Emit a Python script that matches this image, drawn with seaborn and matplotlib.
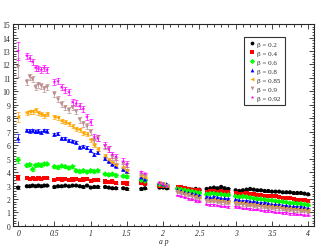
import matplotlib
matplotlib.use('Agg')
import matplotlib.pyplot as plt
import numpy as np
import pandas as pd
import seaborn as sns
from matplotlib.ticker import MultipleLocator

# momentum values a*p
ap = [0, 0.12, 0.16, 0.2, 0.24, 0.28, 0.32, 0.36, 0.4,
      0.5, 0.55, 0.6, 0.65, 0.7, 0.75, 0.8, 0.85, 0.9, 0.95, 1.0, 1.05, 1.1,
      1.2, 1.25, 1.3, 1.35, 1.45, 1.5,
      1.7, 1.75, 1.95, 2.0, 2.05,
      2.2, 2.25, 2.3, 2.35, 2.4, 2.45, 2.5,
      2.6, 2.65, 2.7, 2.75, 2.8, 2.85, 2.9,
      3.0, 3.05, 3.1, 3.15, 3.2, 3.25, 3.3, 3.35, 3.4, 3.45, 3.5, 3.55,
      3.6, 3.65, 3.7, 3.75, 3.8, 3.85, 3.9, 3.95, 4.0]

betas = ['0.2', '0.4', '0.6', '0.8', '0.85', '0.9', '0.92']

y_02 = [2.85, 2.95, 2.95, 3.0, 2.95, 3.0, 2.95, 3.0, 3.0,
        2.9, 2.95, 2.95, 3.0, 2.95, 3.0, 3.0, 2.95, 2.9, 3.0, 2.85, 2.9, 2.9,
        2.9, 2.85, 2.8, 2.8, 2.8, 2.75,
        2.75, 2.8, 2.85, 2.85, 2.8,
        2.8, 2.75, 2.8, 2.75, 2.7, 2.75, 2.7,
        2.75, 2.8, 2.85, 2.8, 2.9, 2.8, 2.75,
        2.65, 2.6, 2.65, 2.7, 2.75, 2.7, 2.65, 2.65, 2.6, 2.6, 2.55, 2.55,
        2.55, 2.5, 2.5, 2.5, 2.45, 2.45, 2.45, 2.4, 2.35]
y_04 = [3.6, 3.55, 3.5, 3.55, 3.5, 3.55, 3.5, 3.55, 3.55,
        3.4, 3.5, 3.45, 3.5, 3.4, 3.45, 3.5, 3.4, 3.45, 3.5, 3.35, 3.4, 3.4,
        3.3, 3.25, 3.3, 3.2, 3.2, 3.15,
        3.2, 3.15, 3.0, 3.0, 2.95,
        2.9, 2.85, 2.8, 2.75, 2.7, 2.7, 2.65,
        2.55, 2.6, 2.6, 2.55, 2.6, 2.55, 2.5,
        2.45, 2.4, 2.4, 2.45, 2.4, 2.35, 2.3, 2.3, 2.25, 2.25, 2.2, 2.2,
        2.15, 2.1, 2.05, 2.05, 2.0, 1.95, 1.95, 1.9, 1.85]
y_06 = [4.9, 4.5, 4.55, 4.2, 4.5, 4.55, 4.5, 4.6, 4.6,
        4.4, 4.35, 4.45, 4.4, 4.3, 4.4, 4.1, 4.05, 4.1, 4.0, 4.1, 4.05, 4.1,
        3.85, 3.8, 3.85, 3.75, 3.7, 3.65,
        3.4, 3.35, 3.1, 3.05, 3.0,
        2.75, 2.7, 2.65, 2.6, 2.55, 2.5, 2.45,
        2.35, 2.4, 2.4, 2.35, 2.35, 2.3, 2.3,
        2.2, 2.15, 2.2, 2.15, 2.1, 2.05, 2.0, 2.0, 1.95, 1.9, 1.9, 1.85,
        1.8, 1.8, 1.75, 1.7, 1.7, 1.65, 1.65, 1.6, 1.55]
y_08 = [6.5, 7.1, 7.05, 7.1, 7.0, 7.05, 6.95, 7.1, 7.05,
        6.8, 6.85, 6.5, 6.5, 6.35, 6.3, 6.2, 5.85, 5.9, 5.8, 5.6, 5.3, 5.45,
        5.0, 4.8, 4.6, 4.45, 4.2, 4.05,
        3.6, 3.45, 3.2, 3.1, 3.1,
        2.7, 2.6, 2.5, 2.45, 2.4, 2.35, 2.25,
        2.15, 2.1, 2.15, 2.1, 2.05, 2.05, 2.0,
        1.95, 1.9, 1.85, 1.85, 1.8, 1.8, 1.75, 1.7, 1.7, 1.65, 1.6, 1.6,
        1.55, 1.5, 1.5, 1.45, 1.45, 1.4, 1.4, 1.35, 1.3]
y_085 = [8.1, 8.4, 8.5, 8.5, 8.6, 8.4, 8.3, 8.2, 8.3,
         8.1, 8.05, 7.8, 7.7, 7.6, 7.4, 7.2, 7.15, 6.9, 6.8, 6.4, 6.0, 5.7,
         5.2, 4.9, 4.7, 4.5, 4.3, 4.1,
         3.7, 3.6, 3.2, 3.15, 3.0,
         2.6, 2.5, 2.4, 2.35, 2.25, 2.2, 2.1,
         1.95, 1.9, 1.95, 1.9, 1.85, 1.8, 1.8,
         1.75, 1.7, 1.7, 1.65, 1.6, 1.6, 1.55, 1.5, 1.5, 1.45, 1.45, 1.4,
         1.4, 1.35, 1.3, 1.3, 1.25, 1.25, 1.2, 1.2, 1.15]
y_09 = [11.8, 10.7, 11.1, 10.9, 10.3, 10.5, 10.4, 10.2, 10.3,
        9.8, 9.4, 9.05, 8.8, 8.6, 8.8, 8.5, 7.9, 7.6, 7.4, 7.0, 6.3, 6.55,
        5.9, 5.7, 5.1, 4.9, 4.6, 4.45,
        3.8, 3.7, 3.15, 3.1, 2.95,
        2.5, 2.4, 2.3, 2.25, 2.15, 2.05, 2.0,
        1.85, 1.8, 1.8, 1.75, 1.7, 1.7, 1.65,
        1.6, 1.55, 1.55, 1.5, 1.5, 1.45, 1.4, 1.4, 1.35, 1.3, 1.3, 1.25,
        1.25, 1.2, 1.15, 1.15, 1.1, 1.1, 1.05, 1.05, 1.0]
y_092 = [13.0, 12.65, 12.45, 12.2, 11.75, 11.7, 11.6, 11.75, 11.6,
         10.7, 10.75, 10.3, 10.1, 9.95, 9.2, 9.1, 8.9, 8.7, 8.1, 7.7, 6.6, 6.5,
         6.0, 5.7, 5.3, 5.15, 4.8, 4.6,
         4.0, 3.9, 3.2, 3.1, 2.95,
         2.25, 2.2, 2.1, 2.0, 1.95, 1.85, 1.8,
         1.6, 1.55, 1.55, 1.5, 1.45, 1.45, 1.4,
         1.4, 1.35, 1.3, 1.3, 1.25, 1.2, 1.2, 1.15, 1.1, 1.1, 1.05, 1.0,
         1.0, 0.95, 0.95, 0.9, 0.9, 0.85, 0.85, 0.8, 0.8]

# error at ap=0, for ap<1.6, and beyond
err_zero = [0.1, 0.15, 0.25, 0.3, 0.35, 0.7, 0.7]
err_low = [0.06, 0.08, 0.1, 0.12, 0.15, 0.22, 0.22]
err_high = [0.05, 0.05, 0.05, 0.05, 0.05, 0.05, 0.05]

colors = ['black', '#ff0000', '#00ff00', '#0000ff', '#ffa500', '#bc8f8f', '#ff00ff']
markers = ['o', 's', 'D', '^', '<', 'v', '*']

series = [y_02, y_04, y_06, y_08, y_085, y_09, y_092]
frames = []
for b, y in zip(betas, series):
    frames.append(pd.DataFrame({'ap': ap, 'val': y, 'beta': 'β = ' + b}))
df = pd.concat(frames, ignore_index=True)

sns.set_theme(style='ticks')
plt.rcParams['font.family'] = ['Liberation Serif', 'DejaVu Serif']

fig = plt.figure(figsize=(3.27, 2.53), dpi=100)
ax = fig.add_axes([0.04, 0.103, 0.92, 0.798])

x = np.array(ap)
for i, y in enumerate(series):
    err = np.where(x < 1.6, err_low[i], err_high[i])
    err[0] = err_zero[i]
    ax.errorbar(x, y, yerr=err, fmt='none', ecolor=colors[i], elinewidth=0.6,
                capsize=1.5, capthick=0.6, alpha=0.8)

sns.scatterplot(data=df, x='ap', y='val', hue='beta', style='beta',
                palette=colors, markers=markers, s=9, linewidth=0,
                ax=ax, zorder=3)

ax.set_xlim(-0.07, 4.08)
ax.set_ylim(0, 15)
ax.xaxis.set_major_locator(MultipleLocator(0.5))
ax.xaxis.set_minor_locator(MultipleLocator(0.1))
ax.yaxis.set_major_locator(MultipleLocator(1))
ax.yaxis.set_minor_locator(MultipleLocator(0.2))
ax.tick_params(which='both', direction='in', top=True, right=True,
               labelsize=5.5, pad=2, width=0.6)
ax.tick_params(which='major', length=3.5)
ax.tick_params(which='minor', length=1.8)
ax.set_xticks([0, 0.5, 1, 1.5, 2, 2.5, 3, 3.5, 4])
ax.set_xticklabels(['0', '0.5', '1', '1.5', '2', '2.5', '3', '3.5', '4'],
                   style='italic')
for s in ax.spines.values():
    s.set_linewidth(0.8)

ax.set_xlabel('a p', fontsize=5.5, style='italic', labelpad=0)
ax.set_ylabel('')

leg = ax.legend(loc='upper right', bbox_to_anchor=(0.915, 0.955), fontsize=5,
                frameon=True, fancybox=False, edgecolor='black',
                handletextpad=0.3, labelspacing=0.45, borderpad=0.6,
                handlelength=1.0, markerscale=0.9)
leg.get_frame().set_linewidth(0.8)

fig.savefig('out.png', dpi=100)
